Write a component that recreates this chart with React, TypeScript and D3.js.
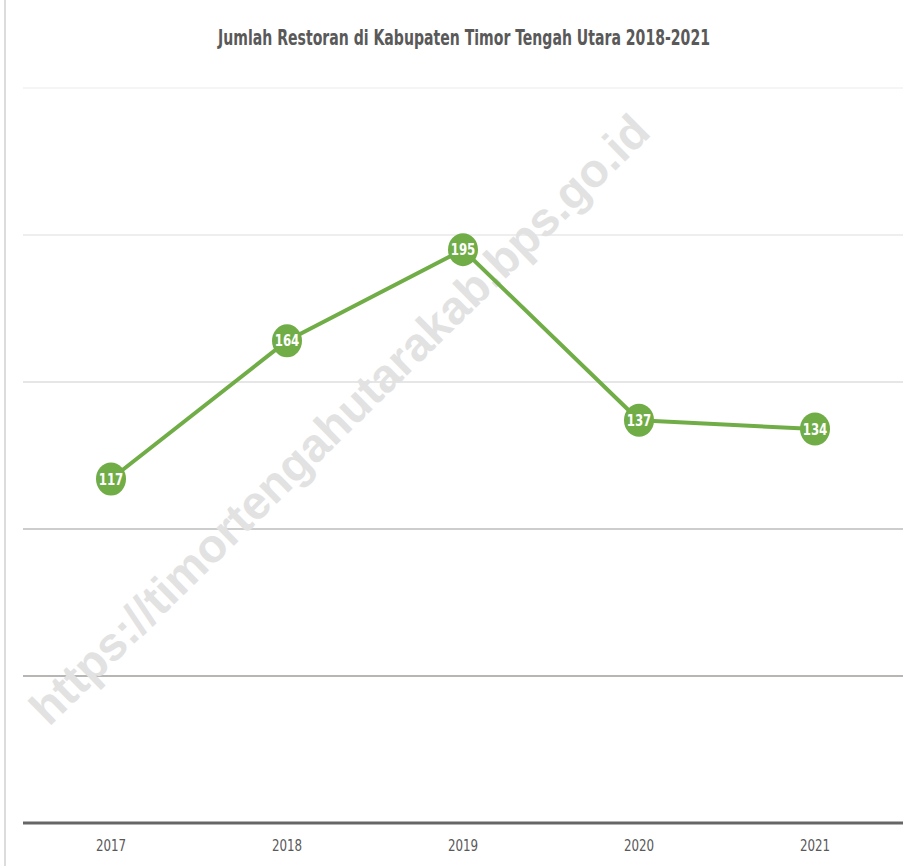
import React from "react";
import * as d3 from "d3";

const categories = ["2017", "2018", "2019", "2020", "2021"];
const values = [117, 164, 195, 137, 134];
const yTicks = [0, 50, 100, 150, 200, 250];
const title = "Jumlah Restoran di Kabupaten Timor Tengah Utara 2018-2021";
const watermark = "https://timortengahutarakab.bps.go.id";

const W = 920;
const H = 866;
const M = { left: 23, right: 17, top: 88, bottom: 43 };

export default function App() {
  const x = d3
    .scaleBand<string>()
    .domain(categories)
    .range([M.left, W - M.right]);
  const y = d3
    .scaleLinear()
    .domain([0, 250])
    .range([H - M.bottom, M.top]);
  const pts = categories.map((c, i) => [x(c)! + x.bandwidth() / 2, y(values[i])] as [number, number]);
  const line = d3.line()(pts) || "";
  const gridColors = ["#6e6e6e", "#a19c98", "#bdbdbd", "#dedede", "#e8e8e8", "#f2f2f2"];
  const condensed = "'DejaVu Sans Condensed', 'Liberation Sans Narrow', sans-serif";

  return (
    <svg
      width={W}
      height={H}
      style={{ position: "absolute", left: 0, top: 0, background: "#fff" }}
    >
      <rect x={0} y={0} width={W} height={H} fill="#fff" />
      <line x1={5} x2={5} y1={0} y2={H} stroke="#d0d0d0" strokeWidth={1.5} />
      <text
        x={464}
        y={45}
        textAnchor="middle"
        fontFamily={condensed}
        fontWeight="bold"
        fontSize={20.5}
        fill="#595959"
        textLength={492}
        lengthAdjust="spacingAndGlyphs"
      >
        {title}
      </text>
      {yTicks.slice(1).map((t, i) => (
        <line
          key={t}
          x1={M.left}
          x2={W - M.right}
          y1={y(t)}
          y2={y(t)}
          stroke={gridColors[i + 1]}
          strokeWidth={1.5}
        />
      ))}
      <text
        transform={`translate(342,422) rotate(-44.5)`}
        textAnchor="middle"
        dominantBaseline="middle"
        fontFamily="'Liberation Sans', Arial, sans-serif"
        fontWeight="bold"
        fontSize={47}
        fill="#e2e2e2"
      >
        {watermark}
      </text>
      <line
        x1={M.left}
        x2={W - M.right}
        y1={y(0)}
        y2={y(0)}
        stroke="#666"
        strokeWidth={3}
      />
      {categories.map((c) => (
        <g key={c} transform={`translate(${x(c)! + x.bandwidth() / 2},851) scale(0.88,1)`}>
          <text
            textAnchor="middle"
            fontFamily={condensed}
            fontSize={15}
            fill="#595959"
          >
            {c}
          </text>
        </g>
      ))}
      <path d={line} fill="none" stroke="#70ad47" strokeWidth={4} strokeLinejoin="round" />
      {pts.map((p, i) => (
        <g key={i}>
          <ellipse cx={p[0]} cy={p[1]} rx={15} ry={16.5} fill="#70ad47" />
          <g transform={`translate(${p[0]},${p[1] + 5.5}) scale(0.82,1)`}>
            <text
              textAnchor="middle"
              fontFamily={condensed}
              fontWeight="bold"
              fontSize={16}
              fill="#fff"
            >
              {values[i]}
            </text>
          </g>
        </g>
      ))}
    </svg>
  );
}
